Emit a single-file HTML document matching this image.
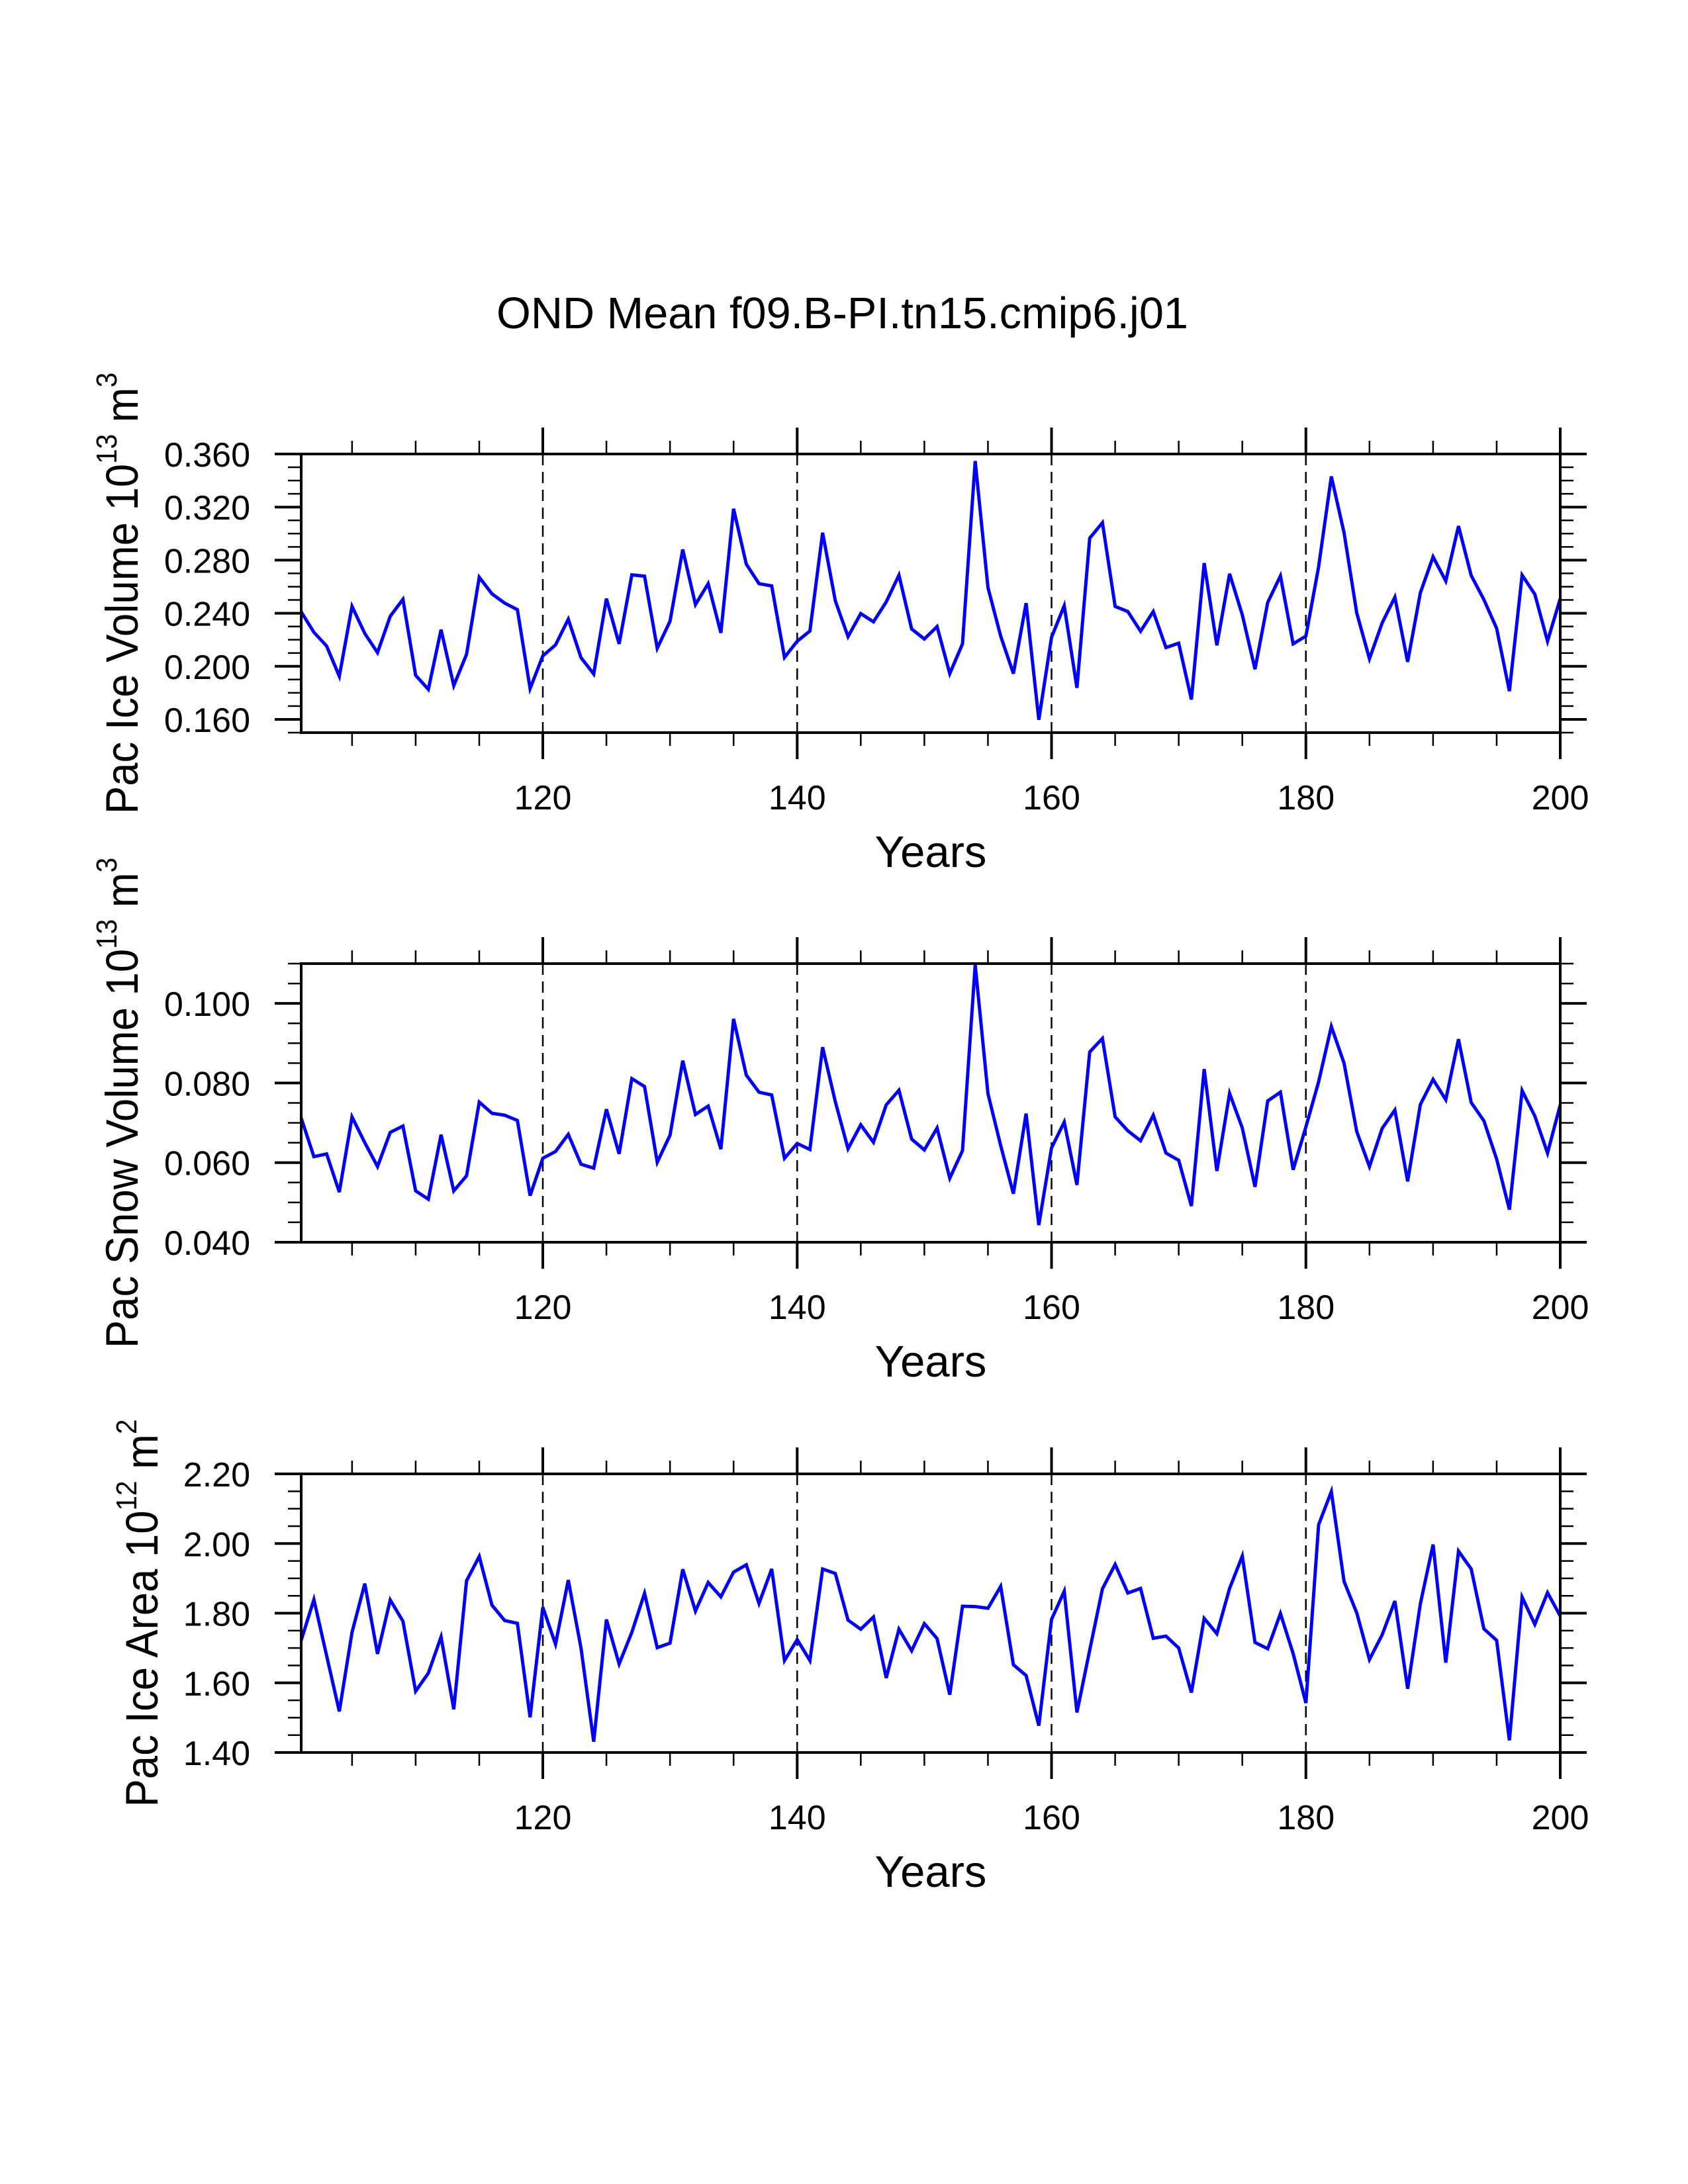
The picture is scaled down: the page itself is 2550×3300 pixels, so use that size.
<!DOCTYPE html>
<html><head><meta charset="utf-8">
<style>
html,body{margin:0;padding:0;background:#fff;}
svg{display:block;font-family:"Liberation Sans",Arial,sans-serif;}
</style></head>
<body>
<svg id="chart" width="2550" height="3300" viewBox="0 0 2550 3300" xmlns="http://www.w3.org/2000/svg">
<rect x="0" y="0" width="2550" height="3300" fill="#fff"/>
<text x="750" y="496" font-size="67" textLength="1045" lengthAdjust="spacingAndGlyphs">OND Mean f09.B-PI.tn15.cmip6.j01</text>
</svg>
<script>
const years = [];
for (let y = 101; y <= 200; y++) years.push(y);
const xTickLabels = [120, 140, 160, 180, 200];

const iceVolume = [0.241,0.2256,0.2153,0.1925,0.2451,0.2247,0.2103,0.2377,0.2505,0.1932,
0.1826,0.2276,0.1854,0.2090,0.2671,0.2546,0.2476,0.2427,0.1832,0.2078,
0.2161,0.2355,0.2065,0.1942,0.2510,0.2169,0.2689,0.2679,0.2136,0.2340,
0.2880,0.2465,0.2623,0.2252,0.3187,0.2770,0.2623,0.2606,0.2067,0.2189,
0.2266,0.3007,0.2493,0.2224,0.2397,0.2335,0.2485,0.2687,0.2281,0.2206,
0.2299,0.1945,0.2169,0.3547,0.2593,0.2228,0.1945,0.2476,0.1597,0.2219,
0.2456,0.1837,0.2966,0.3082,0.2451,0.2413,0.2264,0.2413,0.2141,0.2174,
0.1750,0.2778,0.2158,0.2697,0.2388,0.1978,0.2481,0.2681,0.2169,0.2228,
0.2750,0.3431,0.3007,0.2402,0.2057,0.2327,0.2521,0.2033,0.2554,0.2825,
0.2643,0.3057,0.2684,0.2502,0.2286,0.1813,0.2687,0.2543,0.2189,0.2510];
const iceVolumeTicks = ["0.160","0.200","0.240","0.280","0.320","0.360"];

const snowVolume = [0.0712,0.0615,0.0622,0.0526,0.0715,0.0650,0.0590,0.0676,0.0692,0.0529,
0.0508,0.0670,0.0529,0.0567,0.0752,0.0724,0.0719,0.0706,0.0517,0.0611,
0.0628,0.0671,0.0596,0.0586,0.0734,0.0622,0.0811,0.0791,0.0601,0.0669,
0.0856,0.0721,0.0742,0.0634,0.0961,0.0820,0.0777,0.0770,0.0611,0.0648,
0.0633,0.0890,0.0753,0.0635,0.0695,0.0651,0.0745,0.0782,0.0659,0.0632,
0.0687,0.0561,0.0630,0.1097,0.0773,0.0643,0.0522,0.0723,0.0443,0.0637,
0.0702,0.0544,0.0878,0.0912,0.0715,0.0680,0.0655,0.0719,0.0624,0.0606,
0.0491,0.0835,0.0579,0.0774,0.0687,0.0539,0.0755,0.0777,0.0582,0.0690,
0.0803,0.0942,0.0850,0.0678,0.0590,0.0686,0.0732,0.0553,0.0746,0.0809,
0.0758,0.0910,0.0751,0.0705,0.0609,0.0482,0.0781,0.0717,0.0624,0.0745];
const snowVolumeTicks = ["0.040","0.060","0.080","0.100"];

const iceArea = [1.722,1.839,1.678,1.518,1.745,1.885,1.683,1.838,1.777,1.576,
1.628,1.732,1.524,1.893,1.963,1.823,1.779,1.771,1.501,1.817,
1.711,1.895,1.700,1.431,1.782,1.654,1.745,1.857,1.701,1.714,
1.926,1.806,1.888,1.847,1.918,1.939,1.828,1.927,1.664,1.724,
1.664,1.927,1.914,1.780,1.754,1.789,1.614,1.754,1.692,1.770,
1.727,1.566,1.820,1.819,1.814,1.877,1.652,1.621,1.477,1.782,
1.863,1.515,1.694,1.870,1.940,1.858,1.871,1.728,1.734,1.700,
1.572,1.785,1.741,1.871,1.964,1.716,1.698,1.799,1.684,1.542,
2.054,2.149,1.891,1.801,1.667,1.738,1.835,1.583,1.827,1.997,
1.658,1.978,1.927,1.755,1.722,1.435,1.846,1.768,1.859,1.792];
const iceAreaTicks = ["1.40","1.60","1.80","2.00","2.20"];

const NS = "http://www.w3.org/2000/svg";
const svg = document.getElementById('chart');
const X0 = 455, X1 = 2357, YR0 = 101, YR1 = 200;
function xScale(yr){ return X0 + (yr - YR0) * (X1 - X0) / (YR1 - YR0); }
function mk(tag, attrs, parent){
  const e = document.createElementNS(NS, tag);
  for (const k in attrs) e.setAttribute(k, attrs[k]);
  (parent || svg).appendChild(e);
  return e;
}

function panel(cfg){
  const top = cfg.top, bot = cfg.top + 421;
  const yScale = v => bot - (v - cfg.min) / (cfg.max - cfg.min) * (bot - top);
  const g = mk('g', {});
  
  
  [120,140,160,180].forEach(yr => {
    const l = mk('line', {x1:xScale(yr), x2:xScale(yr), y1:top, y2:bot, stroke:'#000','stroke-width':2.5,'stroke-dasharray':'17 10'}, g);
    
    
  });
  const pts = years.map((yr, i) => xScale(yr).toFixed(1) + ',' + yScale(cfg.data[i]).toFixed(1)).join(' ');
  const pl = mk('polyline', {points:pts, fill:'none', stroke:'#0000ff', 'stroke-width':5, 'stroke-linejoin':'miter'}, g);
  
  
  const fr = mk('rect', {x:X0, y:top, width:X1-X0, height:bot-top, fill:'none', stroke:'#000','stroke-width':4}, g);
  
  
  for (let yr = 105; yr <= 200; yr += 5) {
    const major = yr % 20 === 0;
    const len = major ? 40 : 20;
    const x = xScale(yr);
    mk('line', {x1:x, x2:x, y1:bot, y2:bot+len, stroke:'#000','stroke-width':major?4:2.5}, g);
    mk('line', {x1:x, x2:x, y1:top, y2:top-len, stroke:'#000','stroke-width':major?4:2.5}, g);
  }
  xTickLabels.forEach(v => {
    const t = mk('text', {x:xScale(v), y:bot+116, 'font-size':52, 'text-anchor':'middle'}, g);
    t.textContent = String(v);
    
    
  });
  const nMinor = Math.round((cfg.max - cfg.min) / cfg.minor);
  for (let i = 0; i <= nMinor; i++) {
    const v = cfg.min + i * cfg.minor;
    const y = yScale(v);
    const rel = (v - cfg.firstMajor) / cfg.major;
    const major = Math.abs(rel - Math.round(rel)) < 1e-6 && v >= cfg.firstMajor - 1e-9;
    const len = major ? 40 : 20;
    mk('line', {x1:X0-len, x2:X0, y1:y, y2:y, stroke:'#000','stroke-width':major?4:2.5}, g);
    mk('line', {x1:X1, x2:X1+len, y1:y, y2:y, stroke:'#000','stroke-width':major?4:2.5}, g);
  }
  cfg.ticks.forEach(s => {
    const t = mk('text', {x:378, y:yScale(parseFloat(s))+19, 'font-size':52, 'text-anchor':'end'}, g);
    t.textContent = s;
    
    
  });
  const cy = (top + bot) / 2;
  const yt = mk('text', {x:0, y:0, 'font-size':69, 'text-anchor':'middle', transform:'translate(' + cfg.labelX + ',' + cy + ') rotate(-90) scale(0.92,1)'}, g);
  
  
  const parts = [[cfg.label + ' 10', 0, 69], [cfg.exp1, -32, 44], [' m', 32, 69], [cfg.exp2, -32, 44]];
  parts.forEach(p => {
    const ts = mk('tspan', {dy:p[1], 'font-size':p[2]}, yt);
    ts.textContent = p[0];
  });
  const xt = mk('text', {x:1406, y:bot+203, 'font-size':67, 'text-anchor':'middle'}, g);
  xt.textContent = 'Years';
  
  
}

panel({name:'ice-volume', top:686, data:iceVolume, min:0.150, max:0.360, minor:0.01, major:0.04, firstMajor:0.160, ticks:iceVolumeTicks, label:'Pac Ice Volume', exp1:'13', exp2:'3', labelX:208});
panel({name:'snow-volume', top:1456, data:snowVolume, min:0.040, max:0.110, minor:0.005, major:0.02, firstMajor:0.040, ticks:snowVolumeTicks, label:'Pac Snow Volume', exp1:'13', exp2:'3', labelX:208});
panel({name:'ice-area', top:2227, data:iceArea, min:1.40, max:2.20, minor:0.05, major:0.2, firstMajor:1.40, ticks:iceAreaTicks, label:'Pac Ice Area', exp1:'12', exp2:'2', labelX:238});
</script>
</body></html>
